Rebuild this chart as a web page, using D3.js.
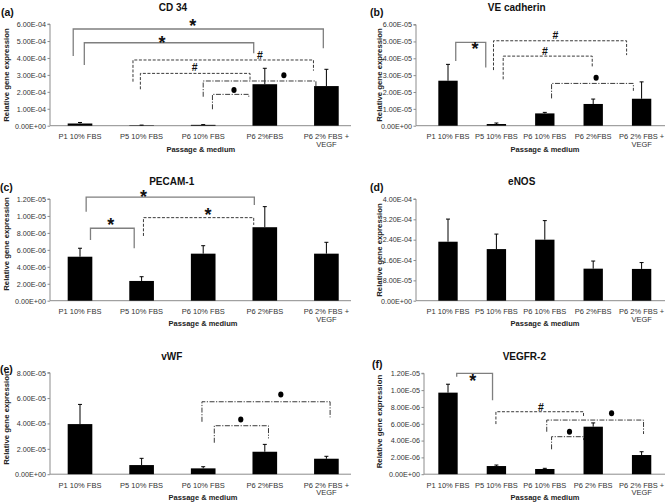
<!DOCTYPE html>
<html>
<head>
<meta charset="utf-8">
<script src="https://cdn.jsdelivr.net/npm/d3@7"></script>
<style>
  html, body { margin: 0; padding: 0; background: #fff; }
  svg { display: block; font-family: "Liberation Sans", Arial, sans-serif; }
</style>
</head>
<body>
<svg id="chart" width="667" height="504"></svg>
<script>
// ---------------- DATA ----------------
const categories  = ["P1 10% FBS", "P5 10% FBS", "P6 10% FBS", "P6 2%FBS", "P6 2% FBS + VEGF"];
const categoriesF = ["P1 10% FBS", "P5 10% FBS", "P6 10% FBS", "P6 2% FBS", "P6 2% FBS + VEGF"];
const labelLines = {"P6 2% FBS + VEGF": ["P6 2% FBS +", "VEGF"]};

const cd34Mean  = [1.3e-5, 2.5e-6, 5e-6, 2.45e-4, 2.34e-4];
const cd34SD    = [6e-6, 1e-6, 1.5e-6, 9.4e-5, 9.9e-5];
const cd34Ticks = [0, 1e-4, 2e-4, 3e-4, 4e-4, 5e-4, 6e-4];

const veMean  = [2.67e-5, 1.0e-6, 7.3e-6, 1.29e-5, 1.6e-5];
const veSD    = [9.7e-6, 6e-7, 6e-7, 2.9e-6, 1.0e-5];
const veTicks = [0, 1e-5, 2e-5, 3e-5, 4e-5, 5e-5, 6e-5];

const pecamMean  = [5.19e-6, 2.33e-6, 5.55e-6, 8.67e-6, 5.55e-6];
const pecamSD    = [1.0e-6, 5e-7, 9.4e-7, 2.43e-6, 1.34e-6];
const pecamTicks = [0, 2e-6, 4e-6, 6e-6, 8e-6, 1e-5, 1.2e-5];

const enosMean  = [2.32e-4, 2.03e-4, 2.40e-4, 1.26e-4, 1.25e-4];
const enosSD    = [8.9e-5, 5.9e-5, 7.5e-5, 3.0e-5, 2.5e-5];
const enosTicks = [0, 8e-5, 1.6e-4, 2.4e-4, 3.2e-4, 4e-4];

const vwfMean  = [3.95e-5, 7.2e-6, 4.6e-6, 1.77e-5, 1.22e-5];
const vwfSD    = [1.55e-5, 5.3e-6, 1.3e-6, 5.8e-6, 1.9e-6];
const vwfTicks = [0, 2e-5, 4e-5, 6e-5, 8e-5];

const vegfrMean  = [9.7e-6, 9.7e-7, 6.2e-7, 5.65e-6, 2.28e-6];
const vegfrSD    = [1.0e-6, 1.2e-7, 8e-8, 4.5e-7, 3.9e-7];
const vegfrTicks = [0, 2e-6, 4e-6, 6e-6, 8e-6, 1e-5, 1.2e-5];

// significance brackets: [from, to] in category units, level & leg ends in data units
const cd34Brackets = [
  {from: -0.11, to: 3.95, level: 5.71e-4, legFrom: 4.12e-4, legTo: 4.57e-4, style: "solid",   mark: "*", markX: 1.83, markY: 6.08e-4},
  {from: 0.07,  to: 2.82, level: 4.90e-4, legFrom: 3.59e-4, legTo: 4.28e-4, style: "solid",   mark: "*", markX: 1.33, markY: 5.10e-4},
  {from: 0.86,  to: 3.79, level: 3.88e-4, legFrom: 2.60e-4, legTo: 3.25e-4, style: "dash",    mark: "#", markX: 2.92, markY: 4.18e-4},
  {from: 0.98,  to: 2.76, level: 3.09e-4, legFrom: 2.15e-4, legTo: 2.70e-4, style: "dash",    mark: "#", markX: 1.86, markY: 3.43e-4},
  {from: 2.00,  to: 3.83, level: 2.64e-4, legFrom: 1.71e-4, legTo: 2.27e-4, style: "dashdot", mark: "•", markX: 3.31, markY: 2.98e-4},
  {from: 2.15,  to: 2.74, level: 1.85e-4, legFrom: 0.97e-4, legTo: 1.71e-4, style: "dashdot", mark: "•", markX: 2.50, markY: 2.11e-4}
];
const veBrackets = [
  {from: 0.16, to: 0.78, level: 4.94e-5, legFrom: 3.84e-5, legTo: 3.46e-5, style: "solid",   mark: "*", markX: 0.56, markY: 4.78e-5},
  {from: 0.94, to: 3.69, level: 5.04e-5, legFrom: 3.30e-5, legTo: 4.19e-5, style: "dash",    mark: "#", markX: 2.22, markY: 5.38e-5},
  {from: 1.14, to: 2.98, level: 4.13e-5, legFrom: 2.75e-5, legTo: 3.50e-5, style: "dash",    mark: "#", markX: 2.00, markY: 4.43e-5},
  {from: 2.14, to: 3.83, level: 2.51e-5, legFrom: 1.62e-5, legTo: 2.07e-5, style: "dashdot", mark: "•", markX: 3.06, markY: 2.85e-5}
];
const pecamBrackets = [
  {from: 0.10, to: 2.83, level: 1.221e-5, legFrom: 1.05e-5, legTo: 1.13e-5, style: "solid", mark: "*", markX: 1.03, markY: 1.268e-5},
  {from: 0.17, to: 0.88, level: 8.55e-6,  legFrom: 7.17e-6, legTo: 6.19e-6, style: "solid", mark: "*", markX: 0.50, markY: 9.41e-6},
  {from: 1.03, to: 2.82, level: 9.80e-6,  legFrom: 7.64e-6, legTo: 8.94e-6, style: "dash",  mark: "*", markX: 2.08, markY: 1.051e-5}
];
const enosBrackets = [];
const vwfBrackets = [
  {from: 1.98, to: 4.06, level: 5.71e-5, legFrom: 4.13e-5, legTo: 4.48e-5, style: "dashdot", mark: "•", markX: 3.26, markY: 6.29e-5},
  {from: 2.18, to: 3.06, level: 3.82e-5, legFrom: 2.48e-5, legTo: 2.82e-5, style: "dashdot", mark: "•", markX: 2.61, markY: 4.32e-5}
];
const vegfrBrackets = [
  {from: 0.18, to: 0.92, level: 1.20e-5, legFrom: 1.16e-5, legTo: 8.8e-6,  style: "solid",   mark: "*", markX: 0.51, markY: 1.147e-5},
  {from: 0.99, to: 2.80, level: 7.43e-6, legFrom: 5.96e-6, legTo: 6.76e-6, style: "dash",    mark: "#", markX: 1.92, markY: 8.02e-6},
  {from: 2.04, to: 4.04, level: 6.44e-6, legFrom: 5.05e-6, legTo: 4.78e-6, style: "dashdot", mark: "•", markX: 3.38, markY: 7.24e-6},
  {from: 2.14, to: 2.80, level: 4.46e-6, legFrom: 2.96e-6, legTo: 4.06e-6, style: "dashdot", mark: "•", markX: 2.51, markY: 5.05e-6}
];

const yTitle = "Relative gene expression";
const xTitle = "Passage & medium";

// ---------------- LAYOUT ----------------
const left  = {axisX: 50,  band: [49.2, 357.2], axisEnd: 351};
const right = {axisX: 416, band: [423.8, 665.8], axisEnd: 665};
const row1 = {yBottom: 125.7};
const row2 = {yBottom: 300.7};
const row3 = {yBottom: 474.2};

const panels = [
  {tag: "(a)", title: "CD 34", cats: categories, mean: cd34Mean, sd: cd34SD, ticks: cd34Ticks, brackets: cd34Brackets,
   col: left, yBottom: row1.yBottom, yTop: 24.1, titlePos: [173, 11], tagPos: [1, 16], yTitlePos: [8.5, 75], xTitlePos: [200.8, 151.5]},
  {tag: "(b)", title: "VE cadherin", cats: categories, mean: veMean, sd: veSD, ticks: veTicks, brackets: veBrackets,
   col: right, yBottom: row1.yBottom, yTop: 24.6, titlePos: [516.7, 11], tagPos: [370, 16], yTitlePos: [382, 75], xTitlePos: [545, 151.5]},
  {tag: "(c)", title: "PECAM-1", cats: categories, mean: pecamMean, sd: pecamSD, ticks: pecamTicks, brackets: pecamBrackets,
   col: left, yBottom: row2.yBottom, yTop: 199.0, titlePos: [171.7, 184.6], tagPos: [0, 191], yTitlePos: [8.5, 244], xTitlePos: [203, 326]},
  {tag: "(d)", title: "eNOS", cats: categories, mean: enosMean, sd: enosSD, ticks: enosTicks, brackets: enosBrackets,
   col: right, yBottom: row2.yBottom, yTop: 199.0, titlePos: [521.7, 184.6], tagPos: [370, 191], yTitlePos: [382, 250], xTitlePos: [545, 326]},
  {tag: "(e)", title: "vWF", cats: categories, mean: vwfMean, sd: vwfSD, ticks: vwfTicks, brackets: vwfBrackets,
   col: left, yBottom: row3.yBottom, yTop: 372.7, titlePos: [171.7, 359.6], tagPos: [0, 372.5], yTitlePos: [8.5, 418], xTitlePos: [203, 500]},
  {tag: "(f)", title: "VEGFR-2", cats: categoriesF, mean: vegfrMean, sd: vegfrSD, ticks: vegfrTicks, brackets: vegfrBrackets,
   col: Object.assign({}, right, {axisX: 424}), yBottom: row3.yBottom, yTop: 373.3, titlePos: [524.3, 359.6], tagPos: [372, 367.5], yTitlePos: [382, 421.5], xTitlePos: [545, 500]}
];

function fmtSci(v) {
  const s = v.toExponential(2);
  const parts = s.split("e");
  const sign = parts[1][0] === "-" ? "-" : "+";
  let d = parts[1].replace(/[+-]/, "");
  if (d.length < 2) d = "0" + d;
  return parts[0] + "E" + sign + d;
}

const dashes = {solid: null, dash: "3,1.6", dashdot: "5,1.5,1.2,1.5"};
const strokeCol = {solid: "#7f7f7f", dash: "#3a3a3a", dashdot: "#3a3a3a"};
const strokeW = {solid: 1.3, dash: 1, dashdot: 1};

const svg = d3.select("#chart");

panels.forEach(p => {
  const g = svg.append("g");
  const x = d3.scaleBand().domain(p.cats).range(p.col.band).paddingInner(0.6).paddingOuter(0.3);
  const yMax = p.ticks[p.ticks.length - 1];
  const y = d3.scaleLinear().domain([0, yMax]).range([p.yBottom, p.yTop]);
  const ux = u => x(p.cats[0]) + x.bandwidth() / 2 + u * x.step();

  // y axis
  const yAxis = d3.axisLeft(y).tickValues(p.ticks).tickFormat(fmtSci).tickSize(2.5).tickPadding(1.5);
  const ya = g.append("g").attr("transform", `translate(${p.col.axisX},0)`).call(yAxis);
  ya.select(".domain").attr("stroke", "#8c8c8c").attr("d", `M-2.5,${p.yTop}H0V${p.yBottom}`);
  ya.selectAll(".tick line").attr("stroke", "#8c8c8c");
  ya.selectAll(".tick text").attr("font-size", 7.2).attr("fill", "#333")
    .attr("font-family", "Liberation Sans, Arial, sans-serif");

  // x axis line
  g.append("line").attr("x1", p.col.axisX).attr("x2", p.col.axisEnd)
    .attr("y1", y(0)).attr("y2", y(0)).attr("stroke", "#8c8c8c").attr("stroke-width", 1);

  // category labels
  p.cats.forEach(c => {
    const lines = labelLines[c] || [c];
    const t = g.append("text").attr("x", x(c) + x.bandwidth() / 2).attr("y", y(0) + 13.6)
      .attr("text-anchor", "middle").attr("font-size", 7.5).attr("fill", "#333");
    lines.forEach((ln, i) => {
      t.append("tspan").attr("x", x(c) + x.bandwidth() / 2).attr("dy", i === 0 ? 0 : 7.5).text(ln);
    });
  });

  // bars
  g.selectAll("rect.bar").data(p.mean).enter().append("rect")
    .attr("x", (d, i) => x(p.cats[i])).attr("width", x.bandwidth())
    .attr("y", d => y(d)).attr("height", d => y(0) - y(d)).attr("fill", "#000");

  // error bars (upper)
  p.mean.forEach((m, i) => {
    const cx = x(p.cats[i]) + x.bandwidth() / 2;
    g.append("line").attr("x1", cx).attr("x2", cx).attr("y1", y(m)).attr("y2", y(m + p.sd[i]))
      .attr("stroke", "#000").attr("stroke-width", 1);
    g.append("line").attr("x1", cx - 2).attr("x2", cx + 2).attr("y1", y(m + p.sd[i])).attr("y2", y(m + p.sd[i]))
      .attr("stroke", "#000").attr("stroke-width", 1);
  });

  // brackets
  p.brackets.forEach(b => {
    g.append("path")
      .attr("d", `M${ux(b.from)},${y(b.legFrom)}V${y(b.level)}H${ux(b.to)}V${y(b.legTo)}`)
      .attr("fill", "none").attr("stroke", strokeCol[b.style]).attr("stroke-width", strokeW[b.style])
      .attr("stroke-dasharray", dashes[b.style]);
    const mx = ux(b.markX), my = y(b.markY);
    if (b.mark === "*") {
      g.append("text").attr("x", mx).attr("y", my + 9.6).attr("text-anchor", "middle")
        .attr("font-size", 18).attr("font-weight", "bold").attr("fill", "#111").text("*");
    } else if (b.mark === "#") {
      g.append("text").attr("x", mx).attr("y", my + 3.8).attr("text-anchor", "middle")
        .attr("font-size", 10.5).attr("font-weight", "bold").attr("fill", "#111").text("#");
    } else {
      g.append("ellipse").attr("cx", mx).attr("cy", my).attr("rx", 2.6).attr("ry", 3).attr("fill", "#000");
    }
  });

  // titles
  g.append("text").attr("x", p.titlePos[0]).attr("y", p.titlePos[1]).attr("text-anchor", "middle")
    .attr("font-size", 10).attr("font-weight", "bold").attr("fill", "#111").text(p.title);
  g.append("text").attr("x", p.tagPos[0]).attr("y", p.tagPos[1])
    .attr("font-size", 10.5).attr("font-weight", "bold").attr("fill", "#111").text(p.tag);
  g.append("text").attr("transform", `translate(${p.yTitlePos[0]},${p.yTitlePos[1]}) rotate(-90)`)
    .attr("text-anchor", "middle").attr("font-size", 7.8).attr("font-weight", "bold").attr("fill", "#222").text(yTitle);
  g.append("text").attr("x", p.xTitlePos[0]).attr("y", p.xTitlePos[1]).attr("text-anchor", "middle")
    .attr("font-size", 7.5).attr("font-weight", "bold").attr("fill", "#222").text(xTitle);
});
</script>
</body>
</html>
